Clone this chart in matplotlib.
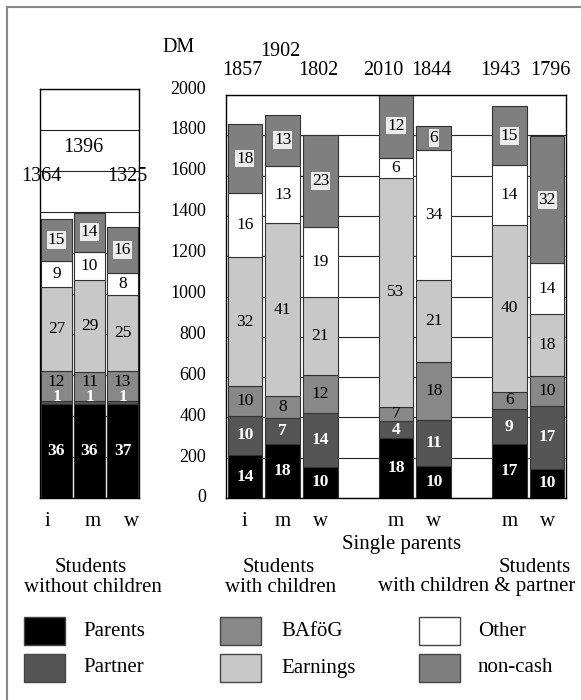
import matplotlib
matplotlib.use("Agg")
import matplotlib.pyplot as plt
import numpy as np
from matplotlib.patches import Rectangle
from matplotlib.lines import Line2D
from matplotlib.transforms import blended_transform_factory

plt.rcParams["font.family"] = ["Liberation Serif", "DejaVu Serif"]

W, H = 581, 700

sources = ["Parents", "Partner", "BAföG", "Earnings", "Other", "non-cash"]
colors = ["#000000", "#555555", "#888888", "#c8c8c8", "#ffffff", "#7f7f7f"]

# students without children (i, m, w): DM per source
nokid_labels = ["i", "m", "w"]
nokid_dm = [
    [460, 462, 461],   # Parents
    [12, 10, 11],      # Partner
    [147, 142, 150],   # BAföG
    [412, 450, 373],   # Earnings
    [126, 140, 106],   # Other
    [207, 192, 224],   # non-cash
]
nokid_pct = [
    [36, 36, 37],
    [1, 1, 1],
    [12, 11, 13],
    [27, 29, 25],
    [9, 10, 8],
    [15, 14, 16],
]
nokid_total = [1364, 1396, 1325]

# students with children / single parents / with children & partner
kid_labels = ["i", "m", "w", "m", "w", "m", "w"]
kid_dm = [
    [213, 266, 155, 296, 160, 266, 144],
    [195, 129, 265, 86, 227, 174, 313],
    [148, 111, 190, 71, 286, 88, 150],
    [638, 857, 386, 1135, 409, 827, 306],
    [318, 285, 351, 98, 645, 298, 252],
    [345, 254, 455, 324, 117, 290, 631],
]
kid_pct = [
    [14, 18, 10, 18, 10, 17, 10],
    [10, 7, 14, 4, 11, 9, 17],
    [10, 8, 12, 7, 18, 6, 10],
    [32, 41, 21, 53, 21, 40, 18],
    [16, 13, 19, 6, 34, 14, 14],
    [18, 13, 23, 12, 6, 15, 32],
]
kid_total = [1857, 1902, 1802, 2010, 1844, 1943, 1796]

yticks = list(range(0, 2001, 200))

NUM_FS = 13     # axis numbers
TOT_FS = 14.5   # totals
WORD_FS = 15    # words (reference letters run wider than its digits)


def fx(px):
    return px / W


def fy(py):
    return 1 - py / H


def draw_stack(ax, xs, dm, pct, width):
    bottom = np.zeros(len(xs))
    for k in range(len(sources)):
        h = np.array(dm[k], dtype=float)
        ax.bar(xs, h, width, bottom=bottom, color=colors[k],
               edgecolor="#333333", linewidth=0.8, zorder=2)
        for j, x in enumerate(xs):
            y = bottom[j] + h[j] / 2
            if k == 1 and h[j] < 30:
                y = bottom[j] + h[j] + 22
            if k == 2 and dm[1][j] < 30:
                y += 22
            kw = dict(ha="center", va="center", fontsize=12.5, zorder=4)
            if k < 2:
                kw.update(color="white", fontweight="bold")
            if k == 5:
                kw["bbox"] = dict(boxstyle="square,pad=0.05", fc="#ececec", ec="none")
            ax.text(x, y, str(pct[k][j]), **kw)
        bottom += h


def style_axes(ax, xlim):
    ax.set_xlim(*xlim)
    ax.set_ylim(0, 2000)
    ax.set_yticks(yticks)
    ax.yaxis.grid(True, color="#222222", linewidth=0.8)
    ax.set_axisbelow(True)
    ax.tick_params(left=False, labelleft=False, bottom=False, length=0,
                   labelsize=WORD_FS, pad=10)
    for s in ax.spines.values():
        s.set_color("black")
        s.set_linewidth(1.0)


fig = plt.figure(figsize=(W / 100, H / 100), dpi=100)

ax1 = fig.add_axes([fx(40), fy(498), fx(99), 409 / H])
ax2 = fig.add_axes([fx(226), fy(498), fx(340), 403 / H])

x1 = np.arange(3)
draw_stack(ax1, x1, nokid_dm, nokid_pct, 0.91)
style_axes(ax1, (-0.5, 2.5))
ax1.set_xticks([-0.27, 1.09, 2.27])
ax1.set_xticklabels(nokid_labels)

x2 = np.array([0, 1, 2, 4, 5, 7, 8])
draw_stack(ax2, x2, kid_dm, kid_pct, 0.92)
style_axes(ax2, (-0.5, 8.5))
ax2.set_xticks(x2)
ax2.set_xticklabels(kid_labels)

# totals
tr1 = blended_transform_factory(ax1.transData, ax1.transAxes)
for j, (off, ya) in enumerate([(-0.45, 0.787), (-0.18, 0.856), (0.15, 0.787)]):
    ax1.text(x1[j] + off, ya, str(nokid_total[j]), transform=tr1,
             ha="center", va="center", fontsize=TOT_FS, zorder=5)

tr2 = blended_transform_factory(ax2.transData, ax2.transAxes)
offs = [-0.07, -0.06, -0.05, -0.35, -0.05, -0.24, 0.1]
for j, x in enumerate(x2):
    ya = 1.107 if j == 1 else 1.062
    ax2.text(x + offs[j], ya, str(kid_total[j]), transform=tr2,
             ha="center", va="center", fontsize=TOT_FS, clip_on=False)

# y axis numbers between the panels
trf = blended_transform_factory(fig.transFigure, ax1.transData)
for v in yticks:
    fig.text(fx(206), v, str(v), transform=trf, ha="right", va="center", fontsize=NUM_FS)
fig.text(fx(179), fy(47), "DM", ha="center", va="center", fontsize=14.5)

# group names
fig.text(fx(91), fy(567), "Students", ha="center", va="center", fontsize=WORD_FS)
fig.text(fx(93), fy(587), "without children", ha="center", va="center", fontsize=WORD_FS)
fig.text(fx(279), fy(567), "Students", ha="center", va="center", fontsize=WORD_FS)
fig.text(fx(281), fy(587), "with children", ha="center", va="center", fontsize=WORD_FS)
fig.text(fx(402), fy(545), "Single parents", ha="center", va="center", fontsize=WORD_FS)
fig.text(fx(535), fy(567), "Students", ha="center", va="center", fontsize=WORD_FS)
fig.text(fx(477), fy(587), "with children & partner", ha="center", va="center", fontsize=WORD_FS)

# legend
cols_px = [(24, 83), (220, 281), (419, 478)]
rows_px = [617, 654]
for k, name in enumerate(sources):
    c, r = divmod(k, 2)
    sx, tx = cols_px[c]
    top = rows_px[r]
    fig.patches.append(Rectangle((fx(sx), fy(top + 28)), fx(41), 28 / H,
                                 transform=fig.transFigure, facecolor=colors[k],
                                 edgecolor="#444444", linewidth=1.0))
    fig.text(fx(tx), fy(top + 14), name, ha="left", va="center", fontsize=WORD_FS)

# outer frame (top and left)
fig.add_artist(Line2D([fx(7), 1], [fy(6.5), fy(6.5)], color="#888888", linewidth=1.5))
fig.add_artist(Line2D([fx(7), fx(7)], [0, fy(6.5)], color="#888888", linewidth=1.5))

fig.savefig("out.png", dpi=100)
